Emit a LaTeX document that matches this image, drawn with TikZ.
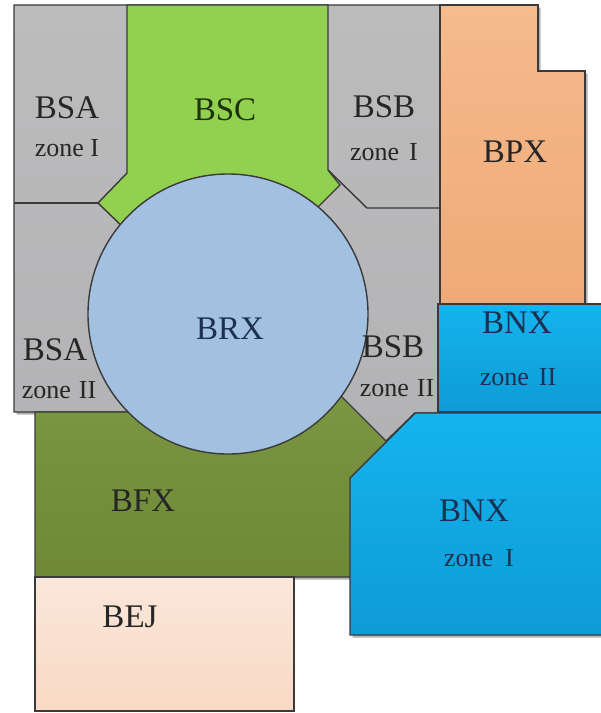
\documentclass[tikz,border=0pt]{standalone}
\usepackage{fontspec}
\setmainfont{Liberation Serif}
\usetikzlibrary{shadows}
\definecolor{edgec}{HTML}{3A3A3A}
\definecolor{zgray}{HTML}{BDBCBD}
\definecolor{zgrayb}{HTML}{B3B2B4}
\definecolor{bscgreen}{HTML}{92D050}
\definecolor{bpxtop}{HTML}{F6BA8C}
\definecolor{bpxbot}{HTML}{EEAA78}
\definecolor{bnxtop}{HTML}{14B4EE}
\definecolor{bnxbot}{HTML}{0E9BD6}
\definecolor{circfill}{HTML}{A2C1E0}
\definecolor{bfxtop}{HTML}{7C9843}
\definecolor{bfxbot}{HTML}{6E8837}
\definecolor{bejtop}{HTML}{FBE7DA}
\definecolor{bejbot}{HTML}{F8D9C4}
\definecolor{txtdark}{HTML}{262626}
\definecolor{txtnavy}{HTML}{1C3050}
\definecolor{txtgreen}{HTML}{1E3210}
\tikzset{
  zone/.style={draw=edgec, line width=1.4pt, line join=miter},
  shad/.style={drop shadow={shadow xshift=2.5pt, shadow yshift=-2.5pt, opacity=0.3, fill=black}},
  big/.style={font=\fontsize{33}{36}\selectfont, inner sep=0pt, text=txtdark},
  small/.style={font=\fontsize{26}{28}\selectfont, inner sep=0pt, text=txtdark},
}
\begin{document}
\begin{tikzpicture}[x=1pt,y=-1pt]
\useasboundingbox (0,0) rectangle (601,713);
\clip (0,0) rectangle (601,713);
\fill[white] (0,0) rectangle (601,713);
% gray block (BSA / BSB)
\path[zone, shad, top color=zgray, bottom color=zgrayb]
  (14,5) -- (440,5) -- (440,413) -- (415,413) -- (386,441) -- (300,412) -- (14,412) -- cycle;
% BPX
\path[zone, shad, top color=bpxtop, bottom color=bpxbot]
  (440,5) -- (538,5) -- (538,71) -- (585,71) -- (585,306) -- (440,306) -- cycle;
% BNX zone II
\path[zone, shad, top color=bnxtop, bottom color=bnxbot]
  (438,304) -- (606,304) -- (606,412) -- (438,412) -- cycle;
% BSC
\path[zone, fill=bscgreen]
  (127,5) -- (328,5) -- (328,170) -- (340,185) -- (315,210) -- (128,232) -- (98,203) -- (127,173) -- cycle;
% internal zone lines
\draw[zone] (98,203) -- (14,203);
\draw[zone] (328,170) -- (367,208) -- (440,208);
% BFX
\path[zone, shad, top color=bfxtop, bottom color=bfxbot]
  (35,412) -- (200,412) -- (320,375) -- (400,455) -- (400,577) -- (35,577) -- cycle;
% BRX circle
\path[zone, fill=circfill] (228,314) circle[radius=140pt];
% BNX zone I
\path[zone, shad, top color=bnxtop, bottom color=bnxbot]
  (415,413) -- (606,413) -- (606,635) -- (350,635) -- (350,478) -- cycle;
% BEJ
\path[zone, top color=bejtop, bottom color=bejbot] (35,577) rectangle (294,711);
% labels
\node[big] (bsa1) at (67,108) {BSA};
\node[small] (bsa1z) at (67,148) {zone I};
\node[big, text=txtgreen] (bsc) at (225,110) {BSC};
\node[big] (bsb1) at (384,107) {BSB};
\node[small] (bsb1z) at (384,152) {zone\hspace{10pt}I};
\node[big] (bpx) at (515,152) {BPX};
\node[big, text=txtnavy] (brx) at (230,329) {BRX};
\node[big] (bsa2) at (55,350) {BSA};
\node[small] (bsa2z) at (59,390) {zone\hspace{8pt}II};
\node[big] (bsb2) at (393,347) {BSB};
\node[small] (bsb2z) at (397,388) {zone\hspace{8pt}II};
\node[big, text=txtnavy] (bnx2) at (517,323) {BNX};
\node[small, text=txtnavy] (bnx2z) at (518,377) {zone\hspace{10pt}II};
\node[big, text=txtnavy] (bnx1) at (474,511) {BNX};
\node[small, text=txtnavy] (bnx1z) at (479,558) {zone\hspace{12pt}I};
\node[big] (bfx) at (143,501) {BFX};
\node[big] (bej) at (130,617) {BEJ};
\end{tikzpicture}
\end{document}
